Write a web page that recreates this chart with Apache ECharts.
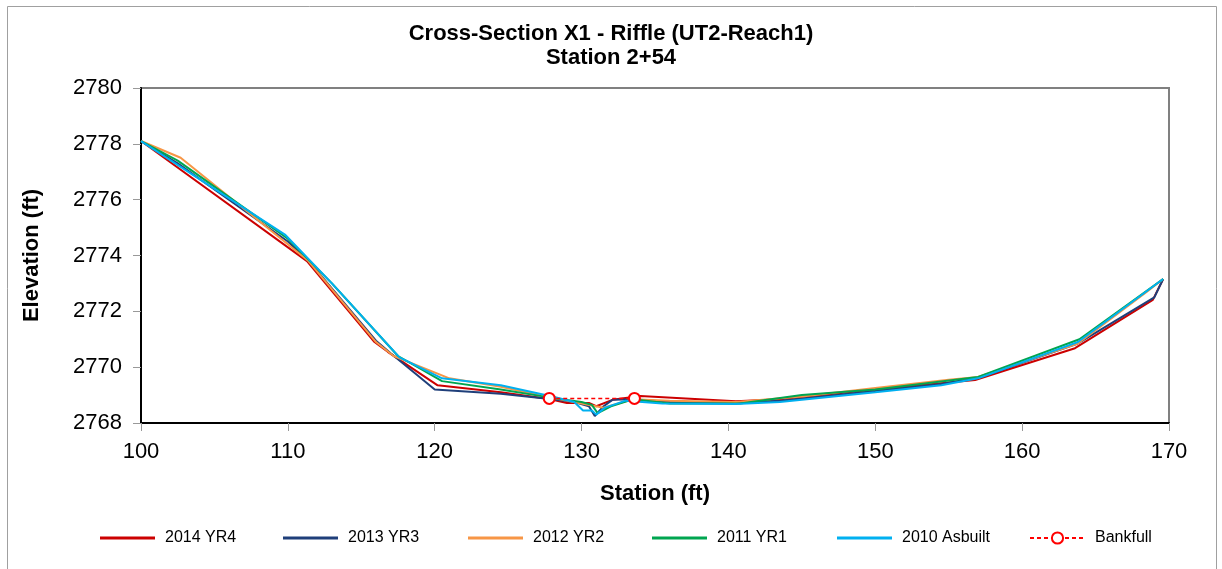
<!DOCTYPE html>
<html>
<head>
<meta charset="utf-8">
<script src="https://cdn.jsdelivr.net/npm/echarts@6/dist/echarts.min.js"></script>
<style>
  html, body { margin: 0; padding: 0; background: #fff; }
  #chart { width: 1222px; height: 569px; }
</style>
</head>
<body>
<div id="chart"></div>
<script>
    // survey data, station (ft) / elevation (ft)
    const yr4Station = [100.0, 111.3, 115.9, 116.8, 120.2, 124.5, 127.8, 129.0, 130.5, 131.0, 132.1, 134.0, 140.5, 143.5, 150.0, 156.8, 163.6, 168.9, 169.6]
    const yr4Elev = [2778.1, 2773.8, 2770.9, 2770.55, 2769.35, 2769.1, 2768.86, 2768.72, 2768.72, 2768.6, 2768.83, 2768.97, 2768.78, 2768.85, 2769.2, 2769.54, 2770.68, 2772.41, 2773.16]

    const yr3Station = [100.0, 102.5, 110.0, 111.5, 116.0, 117.0, 120.0, 124.5, 128.0, 129.5, 130.5, 130.9, 131.5, 132.1, 133.5, 136.0, 140.5, 143.5, 150.0, 154.5, 157.2, 163.8, 169.0, 169.6]
    const yr3Elev = [2778.1, 2777.3, 2774.5, 2773.75, 2770.95, 2770.5, 2769.2, 2769.05, 2768.85, 2768.75, 2768.6, 2768.25, 2768.6, 2768.83, 2768.85, 2768.75, 2768.72, 2768.8, 2769.15, 2769.4, 2769.65, 2770.85, 2772.5, 2773.16]

    const yr2Station = [100.0, 102.7, 110.0, 111.4, 116.0, 117.2, 121.0, 124.5, 128.0, 130.0, 131.5, 133.5, 136.0, 140.5, 145.0, 150.0, 155.0, 157.0, 163.8, 168.5, 169.6]
    const yr2Elev = [2778.1, 2777.5, 2774.4, 2773.8, 2770.9, 2770.4, 2769.6, 2769.3, 2768.9, 2768.7, 2768.55, 2768.85, 2768.8, 2768.75, 2768.95, 2769.25, 2769.55, 2769.65, 2770.85, 2772.7, 2773.16]

    const yr1Station = [100.0, 102.5, 110.0, 113.0, 117.5, 120.5, 124.5, 128.0, 130.0, 130.7, 131.1, 132.0, 133.5, 136.0, 140.8, 145.0, 150.0, 157.0, 163.9, 169.6]
    const yr1Elev = [2778.1, 2777.4, 2774.6, 2773.0, 2770.4, 2769.5, 2769.2, 2768.9, 2768.75, 2768.65, 2768.35, 2768.6, 2768.85, 2768.7, 2768.7, 2769.0, 2769.2, 2769.65, 2771.0, 2773.16]

    const asbuiltStation = [100.0, 109.8, 113.0, 117.6, 120.5, 124.5, 128.0, 129.5, 130.1, 130.7, 131.0, 131.6, 133.0, 135.5, 140.5, 143.5, 150.0, 154.5, 157.0, 163.8, 169.6]
    const asbuiltElev = [2778.1, 2774.75, 2773.0, 2770.35, 2769.6, 2769.35, 2768.95, 2768.75, 2768.45, 2768.45, 2768.3, 2768.55, 2768.8, 2768.7, 2768.68, 2768.75, 2769.1, 2769.35, 2769.6, 2770.9, 2773.16]

    const bankfullStation = [127.8, 133.6]
    const bankfullElev = [2768.88, 2768.88]

    const seriesNames = ['2014 YR4', '2013 YR3', '2012 YR2', '2011 YR1', '2010 Asbuilt', 'Bankfull']
    const seriesColors = ['#cc0000', '#1f3f7a', '#f79646', '#00a550', '#00b0f0', '#ff0000']
    const xTicks = [100, 110, 120, 130, 140, 150, 160, 170]
    const yTicks = [2768, 2770, 2772, 2774, 2776, 2778, 2780]

    const font = "'Liberation Sans', Arial, sans-serif"

    function pairs (xs, ys) {
        return xs.map((x, i) => [x, ys[i]])
    }

    const surveys = [
        pairs(yr4Station, yr4Elev),
        pairs(yr3Station, yr3Elev),
        pairs(yr2Station, yr2Elev),
        pairs(yr1Station, yr1Elev),
        pairs(asbuiltStation, asbuiltElev)
    ]

    const series = surveys.map((data, i) => ({
        name: seriesNames[i],
        type: 'line',
        data: data,
        symbol: 'none',
        animation: false,
        lineStyle: { color: seriesColors[i], width: 2 },
        itemStyle: { color: seriesColors[i] }
    }))
    series.push({
        name: 'Bankfull',
        type: 'line',
        data: pairs(bankfullStation, bankfullElev),
        symbol: 'emptyCircle',
        symbolSize: 11,
        animation: false,
        lineStyle: { color: seriesColors[5], width: 1.5, type: [4, 3] },
        itemStyle: { color: seriesColors[5], borderWidth: 2 }
    })

    // one legend per item so the spacing follows the original
    const legendLeft = [100, 283, 468, 652, 837, 1029]
    const legend = seriesNames.map((name, i) => {
        const isBankfull = name === 'Bankfull'
        return {
            data: [isBankfull ? name : { name: name, icon: 'rect' }],
            left: legendLeft[i],
            top: 530,
            padding: 0,
            itemWidth: 55,
            itemHeight: isBankfull ? 14 : 3,
            itemGap: 0,
            textStyle: { fontFamily: font, fontSize: 16, color: '#000', padding: [0, 0, 0, 5], lineHeight: 16 }
        }
    })

    const chart = echarts.init(document.getElementById('chart'))
    chart.setOption({
        backgroundColor: '#fff',
        title: {
            text: 'Cross-Section X1 - Riffle (UT2-Reach1)\nStation 2+54',
            left: 'center',
            top: 17,
            textStyle: { fontFamily: font, fontSize: 22, fontWeight: 'bold', color: '#000', lineHeight: 24 }
        },
        graphic: [{
            type: 'rect',
            shape: { x: 7.5, y: 6.5, width: 1209, height: 580 },
            style: { fill: 'none', stroke: '#a0a0a0', lineWidth: 1 },
            silent: true
        }],
        legend: legend,
        grid: {
            left: 141,
            right: 53,
            top: 88,
            bottom: 146,
            show: true,
            borderColor: '#808080',
            borderWidth: 2
        },
        xAxis: {
            type: 'value',
            min: 100,
            max: 170,
            interval: 10,
            name: 'Station (ft)',
            nameLocation: 'middle',
            nameGap: 60,
            nameTextStyle: { fontFamily: font, fontSize: 22, fontWeight: 'bold', color: '#000' },
            axisLine: { onZero: false, lineStyle: { color: '#000', width: 2 } },
            axisTick: { show: true, length: 8, lineStyle: { color: '#999' } },
            axisLabel: {
                margin: 18,
                fontFamily: font,
                fontSize: 22,
                color: '#000',
                formatter: v => xTicks.includes(v) ? String(v) : ''
            },
            splitLine: { show: false }
        },
        yAxis: {
            type: 'value',
            min: 2768,
            max: 2780,
            interval: 2,
            name: 'Elevation (ft)',
            nameLocation: 'middle',
            nameGap: 98,
            nameTextStyle: { fontFamily: font, fontSize: 22, fontWeight: 'bold', color: '#000' },
            axisLine: { show: true, onZero: false, lineStyle: { color: '#000', width: 2 } },
            axisTick: { show: true, length: 8, lineStyle: { color: '#999' } },
            axisLabel: {
                margin: 19,
                fontFamily: font,
                fontSize: 22,
                color: '#000',
                formatter: v => yTicks.includes(v) ? String(v) : ''
            },
            splitLine: { show: false }
        },
        series: series
    })
</script>
</body>
</html>
